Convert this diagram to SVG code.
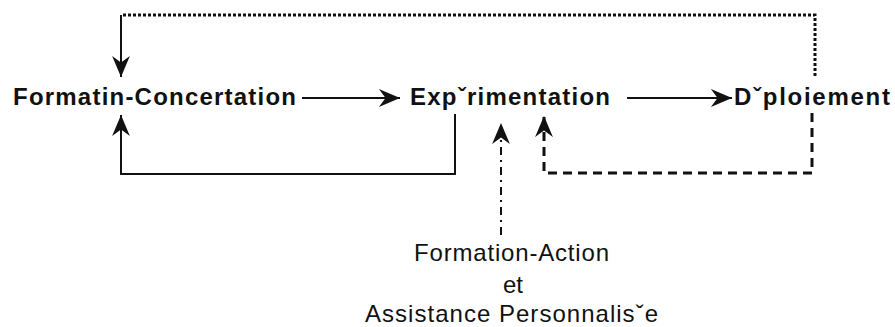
<svg xmlns="http://www.w3.org/2000/svg" width="895" height="327" viewBox="0 0 895 327">
  <defs>
    <style>
      .stage { font-family: "Liberation Sans", Arial, sans-serif; font-weight: bold; font-size: 24px; fill: #111; }
      .note { font-family: "Liberation Sans", Arial, sans-serif; font-size: 24px; fill: #111; }
      .wire { fill: none; stroke: #111; }
      .solid { stroke-width: 2; }
      .dotted { stroke-width: 3; stroke-dasharray: 3 2; }
      .dashed { stroke-width: 3; stroke-dasharray: 9 6; }
      .dashdot { stroke-width: 2; stroke-dasharray: 8 5 2 5; }
    </style>
    <marker id="head" markerUnits="userSpaceOnUse" markerWidth="24" markerHeight="20" viewBox="-20 -9 21 18" refX="0" refY="0" orient="auto">
      <path d="M0,0 L-19,-8 L-13,0 L-19,8 Z" fill="#111"/>
    </marker>
  </defs>

  <!-- stages -->
  <g id="formation-concertation">
    <text class="stage" x="13" y="105" textLength="283" lengthAdjust="spacing">Formatin-Concertation</text>
  </g>
  <g id="experimentation">
    <text class="stage" x="410" y="105" textLength="200" lengthAdjust="spacing">Expˇrimentation</text>
  </g>
  <g id="deploiement">
    <text class="stage" x="734" y="105" textLength="156" lengthAdjust="spacing">Dˇploiement</text>
  </g>
  <g id="formation-action">
    <text class="note" x="414" y="261" textLength="195" lengthAdjust="spacing">Formation-Action</text>
    <text class="note" x="503" y="293" textLength="20" lengthAdjust="spacing">et</text>
    <text class="note" x="365" y="322" textLength="293" lengthAdjust="spacing">Assistance Personnalisˇe</text>
  </g>

  <!-- connectors -->
  <g id="connectors">
    <line class="wire solid" x1="302" y1="98" x2="400" y2="98" marker-end="url(#head)"/>
    <line class="wire solid" x1="627" y1="98" x2="732" y2="98" marker-end="url(#head)"/>
    <polyline class="wire solid" points="455,114 455,174 121,174 121,115" marker-end="url(#head)"/>
    <polyline class="wire dotted" points="815,76 815,15 121,15"/>
    <line class="wire solid" x1="121" y1="15" x2="121" y2="77" marker-end="url(#head)"/>
    <polyline class="wire dashed" points="812,113 812,173 544,173 544,116" marker-end="url(#head)"/>
    <line class="wire dashdot" x1="501" y1="235" x2="501" y2="123" marker-end="url(#head)"/>
  </g>
</svg>
